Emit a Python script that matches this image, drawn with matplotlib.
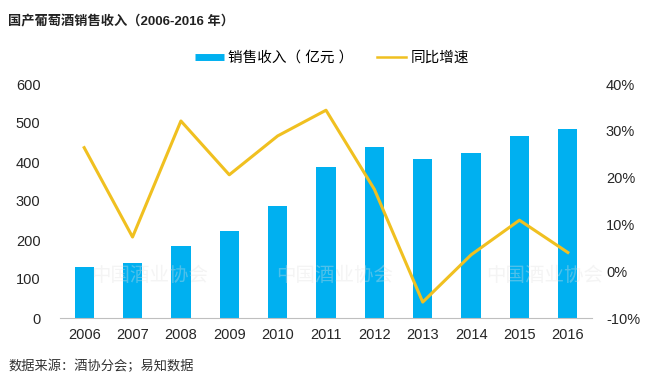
import numpy as np
import matplotlib
matplotlib.use('Agg')
import matplotlib.pyplot as plt
from matplotlib.ticker import FuncFormatter
from matplotlib.lines import Line2D

plt.rcParams['font.family'] = ['Liberation Sans', 'Noto Sans CJK SC', 'DejaVu Sans']

# data
years = ['2006', '2007', '2008', '2009', '2010', '2011',
         '2012', '2013', '2014', '2015', '2016']
revenue = [131, 140, 185, 223, 287, 386, 439, 408, 422, 467, 485]   # 亿元
growth = [26.4, 7.3, 32.1, 20.6, 28.9, 34.4, 17.5, -6.6, 3.5, 10.9, 4.0]  # %

bar_c = '#00B0F0'
line_c = '#F0C020'

W, H = 655, 382
fig = plt.figure(figsize=(W/100, H/100), dpi=100)
ax = fig.add_axes([60/W, 1-318/H, 532/W, 234/H])
x = np.arange(len(years))
ax.bar(x, revenue, width=0.4, color=bar_c, zorder=2)
ax.set_xlim(-0.5, len(years)-0.5)
ax.set_ylim(0, 600)
ax.set_yticks(range(0, 601, 100))
ax.set_xticks(x)
ax.set_xticklabels(years)
for s in ['top', 'right', 'left']:
    ax.spines[s].set_visible(False)
ax.spines['bottom'].set_color('#BFBFBF')
ax.tick_params(length=0, labelsize=10.5, colors='#262626')
ax.tick_params(axis='y', pad=14)
ax.tick_params(axis='x', pad=7)

ax2 = ax.twinx()
ax2.plot(x, growth, color=line_c, lw=2.2, zorder=3)
ax2.set_ylim(-10, 40)
ax2.set_yticks(range(-10, 41, 10))
ax2.yaxis.set_major_formatter(FuncFormatter(lambda v, p: '%d%%' % v))
for s in ['top', 'right', 'left', 'bottom']:
    ax2.spines[s].set_visible(False)
ax2.tick_params(length=0, labelsize=10.5, colors='#262626', pad=10)

# watermarks
for wx in [150, 335, 545]:
    fig.text(wx/W, 1-276/H, '中国酒业协会', fontsize=14, color='#e0e0e0',
             alpha=0.35, ha='center', va='center', zorder=5)

# legend
handles = [Line2D([], [], color=bar_c, lw=5, solid_capstyle='butt'),
           Line2D([], [], color=line_c, lw=1.8)]
labels = ['销售收入（ 亿元 ）', '同比增速']
fig.legend(handles, labels, loc='center', bbox_to_anchor=(332/W, 1-58/H),
           ncol=2, frameon=False, fontsize=10.5, handlelength=2.0,
           columnspacing=1.6, handletextpad=0.3)

fig.text(8/W, 1-22/H, '国产葡萄酒销售收入（2006-2016 年）', fontsize=9.5,
         fontweight='bold', ha='left', va='center', color='#222222')
fig.text(8/W, 1-366/H, '数据来源：酒协分会；易知数据', fontsize=9.5,
         ha='left', va='center', color='#333333')

fig.savefig('out.png', dpi=100)
